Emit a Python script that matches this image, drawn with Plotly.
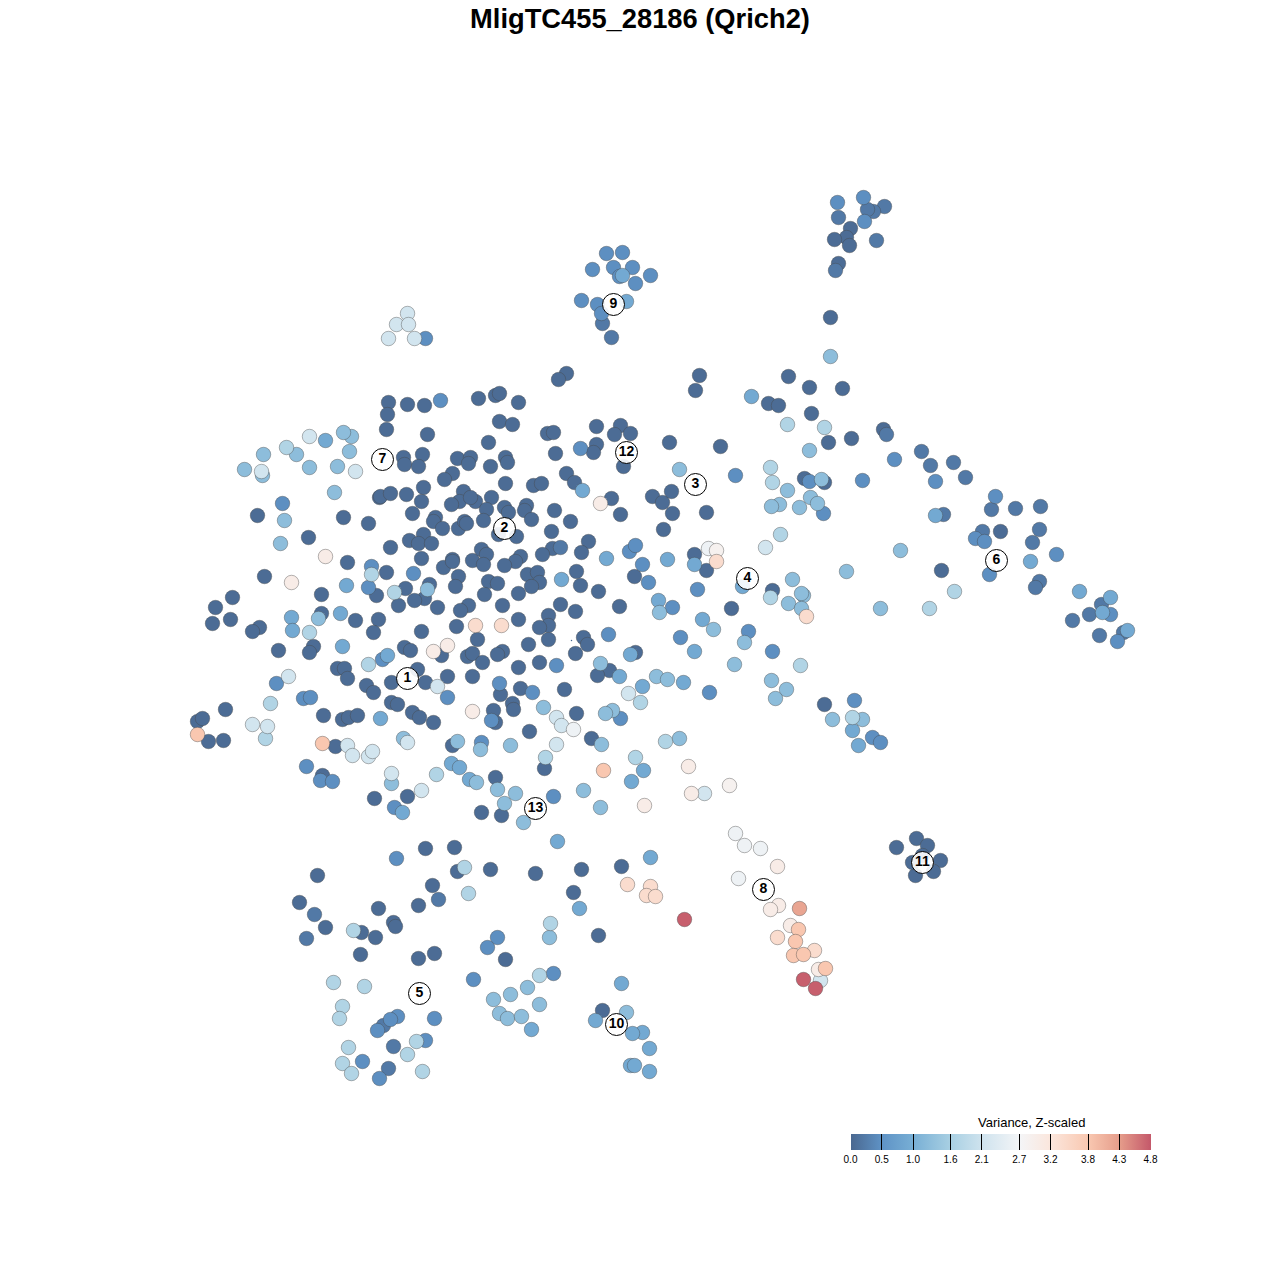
import plotly.graph_objects as go

TITLE = "MligTC455_28186 (Qrich2)"
LEGEND_TITLE = "Variance, Z-scaled"
tick_values = [0.0, 0.5, 1.0, 1.6, 2.1, 2.7, 3.2, 3.8, 4.3, 4.8]
tick_labels = ["0.0", "0.5", "1.0", "1.6", "2.1", "2.7", "3.2", "3.8", "4.3", "4.8"]

cells_v005 = [(388,402),(407,404),(424,405),(387,414),(386,429),(427,434),(478,398),(495,395),(499,393),(518,402),(499,421),(512,424),(488,442),
(547,433),(553,432),(555,453),(596,426),(620,425),(614,434),(630,433),(596,444),(593,452),(623,466),(669,442),
(403,457),(404,464),(422,454),(418,466),(457,458),(470,457),(468,463),(452,473),(444,479),(490,466),(505,457),(507,462),
(379,497),(380,496),(390,493),(406,494),(423,487),(421,501),(463,491),(459,501),(451,504),(475,501),(470,497),(505,483),(566,473),(574,482),(611,498),(620,514),(533,485),(541,483),
(491,497),(486,509),(504,507),(508,512),(483,520),(526,505),(524,510),(531,519),(554,510),(570,521),(551,531),
(412,513),(435,517),(433,521),(442,528),(458,528),(464,521),(466,523),
(257,515),(343,517),(368,523),(308,537),(390,547),(409,540),(423,534),(418,543),(431,543),(421,558),(452,559),(443,567),(452,561),(472,560),(458,576),(455,586),
(498,534),(516,536),(481,549),(486,554),(483,564),(552,548),(542,554),(520,556),(515,561),(504,565),(588,541),(581,552),
(347,562),(264,576),(386,572),(405,588),(429,584),(424,598),(414,600),(398,605),(376,595),(321,594),(437,607),(468,605),(460,610),(321,613),(355,620),(378,619),(373,632),(421,631),(456,626),
(232,597),(215,607),(230,619),(212,623),(259,627),(252,631),(278,650),(313,646),(309,652),(404,647),(410,650),(441,655),(467,656),(472,653),(482,662),
(527,574),(537,572),(539,582),(531,586),(488,581),(497,583),(484,594),(518,593),(576,571),(580,585),(598,591),(560,604),(575,611),(619,606),(502,605),(518,619),(548,615),(548,625),(539,627),(477,639),(528,644),(548,639),(583,637),(587,644),(575,653),(635,652),(502,651),(497,654),(518,667),(539,662),(609,670),(597,675),
(652,496),(662,502),(671,491),(672,513),(663,529),(634,576),
(337,668),(344,668),(347,678),(417,669),(425,682),(447,676),(472,676),(391,682),(366,685),(373,692),(391,702),(397,704),(412,712),(419,717),(433,722),(323,715),(342,719),(348,717),(357,715),(225,709),(197,721),(202,718),(208,741),(223,740),(335,746),(452,745),(322,775),(374,798),(407,796),(425,848),(454,847),
(500,694),(520,688),(564,689),(493,710),(512,703),(513,709),(495,722),(576,713),(529,731),(591,738),(544,768),(495,777),(481,812),(501,815),
(317,875),(457,871),(490,869),(535,873),(581,869),(432,885),(573,892),(299,902),(418,905),(378,908),(325,927),(393,922),(395,926),(375,937),(361,932),(360,954),(418,958),(434,953),(505,959),(598,935),(621,866),(602,1010),
(699,375),(695,390),(788,376),(809,387),(842,388),(768,403),(778,405),(811,413),(566,373),(558,379),(830,317),(850,228),(846,237),(834,239),(849,245),(838,263),
(720,446),(706,512),(828,442),(851,438),(883,429),(804,478),(824,482),(694,554),(706,570),(772,590),(731,608),(824,704),(941,570),(1000,531),
(896,847),(916,838),(927,845),(940,860),(933,871),(915,875),(912,862),(922,855)]

cells_v020 = [(560,547),(438,899),(314,914),(306,938),(921,451),(930,465),(953,462),(965,477),(991,509),(1015,508),(1040,506),(943,514),(982,531),(1039,529),(1032,542),(1039,581),(1035,587),(1101,604),(1089,614),(1072,620),(1099,635),(1123,632),
(884,206),(873,211),(867,209),(838,217),(835,270),(886,434),(876,240),(383,1025),(393,1046),(388,1068),(602,323),(611,337)]

cells_v045 = [(440,400),(282,503),(371,566),(413,573),(368,587),(382,659),(276,683),(303,698),(310,697),(306,766),(320,780),(332,781),(394,807),(396,858),(447,697),(499,683),(532,692),(491,720),(481,742),(556,665),(580,448),(629,551),(635,545),(642,564),(648,582),(672,607),(680,637),(608,634),(620,718),(709,692),(735,475),(697,589),(748,631),(772,651),(809,481),(823,513),(894,459),(862,480),(854,700),(872,737),(880,742),(935,481),(995,496),(975,538),(984,541),(1056,554),(989,574),(1110,614),(1117,641),(553,796),(473,979),(497,937),(487,947),(553,973),(397,1016),(390,1019),(377,1030),(434,1018),(425,1040),(362,1061),(379,1078),(425,338),
(606,253),(622,252),(592,269),(613,267),(632,267),(619,276),(635,283),(650,275),(581,300),(597,304),(601,313),(837,202),(863,197),(864,221)]

cells_v090 = [(325,440),(346,585),(291,617),(292,630),(340,613),(342,646),(387,655),(380,718),(402,812),(451,763),(459,767),(469,779),(582,490),(561,579),(606,558),(667,559),(658,600),(630,654),(619,676),(642,686),(683,682),(631,781),(643,770),(557,841),(650,857),(579,908),(622,275),(626,301),(751,396),(694,564),(742,586),(702,619),(694,651),(852,730),(858,745),(935,515),(1030,561),(1079,591),(1102,612),(1127,630),(1110,597),(531,1029),(595,1020),(621,983),(642,1032),(632,1033),(649,1048),(630,1065),(634,1065),(649,1071)]

cells_v125 = [(244,469),(263,454),(296,454),(309,467),(337,466),(349,451),(351,436),(343,432),(334,492),(284,520),(280,543),(262,475),(427,589),(318,618),(659,612),(600,663),(656,676),(667,679),(403,738),(457,741),(480,749),(391,783),(476,782),(510,745),(543,707),(612,710),(605,713),(601,744),(583,790),(600,807),(515,793),(504,803),(497,789),(523,822),(679,469),(809,450),(787,490),(821,479),(810,497),(817,503),(799,507),(779,504),(771,506),(830,356),(792,579),(803,595),(801,593),(788,603),(801,608),(713,629),(744,642),(734,664),(771,680),(786,689),(775,698),(832,719),(862,719),(846,571),(900,550),(880,608),(549,937),(539,1004),(527,987),(510,994),(493,999),(499,1013),(507,1018),(521,1016),(626,1012),(679,738)]

cells_v170 = [(309,632),(371,574),(394,592),(368,664),(286,447),(270,703),(265,738),(436,774),(464,867),(468,893),(550,923),(353,930),(333,982),(364,986),(342,1006),(339,1018),(539,975),(416,1041),(348,1047),(407,1054),(342,1063),(351,1073),(422,1071),(545,757),(635,757),(665,741),(640,702),(787,424),(824,427),(770,467),(772,482),(780,534),(770,597),(800,665),(852,717),(954,591),(929,608)]

cells_v215 = [(309,436),(261,471),(355,471),(288,676),(437,686),(252,724),(267,726),(347,745),(352,755),(368,756),(372,751),(407,742),(391,773),(421,790),(556,717),(561,725),(556,744),(628,693),(704,793),(765,547),(820,980),(407,313),(396,324),(408,324),(388,338),(414,338)]

cells_v260 = [(573,729),(708,548),(735,833),(744,845),(760,848),(738,878)]
cells_v285 = [(729,785),(716,550)]
cells_v300 = [(325,556),(291,582),(433,651),(447,645),(472,711),(600,503),(688,766),(691,793),(644,805),(777,866),(778,905),(770,909),(790,925),(818,969)]
cells_v340 = [(475,625),(501,625),(716,561),(806,616),(627,884),(650,886),(646,895),(655,896),(777,937),(814,950)]
cells_v380 = [(197,734),(322,743),(603,770),(798,929),(795,941),(793,955),(803,954),(825,968)]
cells_v420 = [(799,908)]
cells_v475 = [(684,919),(803,979),(815,988)]

cluster_labels = ["1","2","3","4","5","6","7","8","9","10","11","12","13"]
cluster_x = [407,504,695,747,419,996,382,763,613,616,922,626,535]
cluster_y = [678,528,484,578,993,560,459,889,304,1024,862,452,808]

stray_x = [571]
stray_y = [640]

groups = [(cells_v005,0.05),(cells_v020,0.2),(cells_v045,0.45),(cells_v090,0.9),(cells_v125,1.25),(cells_v170,1.7),(cells_v215,2.15),
          (cells_v260,2.6),(cells_v285,2.85),(cells_v300,3.0),(cells_v340,3.4),(cells_v380,3.8),(cells_v420,4.2),(cells_v475,4.75)]

xs, ys, zs = [], [], []
for pts, v in groups:
    for px, py in pts:
        xs.append(px); ys.append(py); zs.append(v)

scale = [[0.0,"#4a6890"],[0.104,"#5f93c6"],[0.208,"#78afd5"],[0.333,"#a9d0e3"],[0.437,"#cfe3ee"],
         [0.563,"#f4f5f7"],[0.667,"#fbe6dc"],[0.79,"#f9c8b1"],[0.897,"#e59c8a"],[1.0,"#c4586a"]]

fig = go.Figure()
fig.add_trace(go.Scatter(
    x=xs, y=ys, mode="markers", hoverinfo="skip", showlegend=False,
    marker=dict(size=14.5, color=zs, colorscale=scale, cmin=0, cmax=4.8,
                line=dict(color="rgba(70,70,70,0.4)", width=1),
                colorbar=dict(orientation="h", x=850.5/1280, xanchor="left", y=1-1134/1280, yanchor="top",
                              len=300, lenmode="pixels", thickness=16, thicknessmode="pixels",
                              xpad=0, ypad=0, outlinewidth=0, tickmode="array",
                              tickvals=tick_values, ticktext=tick_labels, ticks="inside",
                              ticklen=16, tickwidth=1, tickcolor="black",
                              tickfont=dict(family="Liberation Sans", size=10, color="black")))))
fig.add_trace(go.Scatter(
    x=stray_x, y=stray_y, mode="markers", hoverinfo="skip", showlegend=False,
    marker=dict(size=1.5, color="#476890")))
fig.add_trace(go.Scatter(
    x=cluster_x, y=cluster_y, mode="markers+text", text=cluster_labels, textposition="middle center",
    hoverinfo="skip", showlegend=False,
    textfont=dict(family="Liberation Sans", size=14, color="black", weight="bold"),
    marker=dict(size=22, color="rgba(255,255,255,0.9)", line=dict(color="black", width=1))))

fig.update_layout(
    width=1280, height=1280, margin=dict(l=0, r=0, t=0, b=0),
    paper_bgcolor="white", plot_bgcolor="white",
    xaxis=dict(range=[-0.5,1279.5], visible=False),
    yaxis=dict(range=[1279.5,-0.5], visible=False),
    title=dict(text="<b>"+TITLE+"</b>", x=0.5, xanchor="center", y=1-18/1280, yanchor="middle",
               font=dict(family="Liberation Sans", size=27.3, color="black")),
    annotations=[dict(text=LEGEND_TITLE, x=1031, y=1122, xref="x", yref="y", showarrow=False,
                      font=dict(family="Liberation Sans", size=13, color="black"))])
fig.write_html("out.html", post_script="document.body.style.margin='0';", config={"displayModeBar": False})
